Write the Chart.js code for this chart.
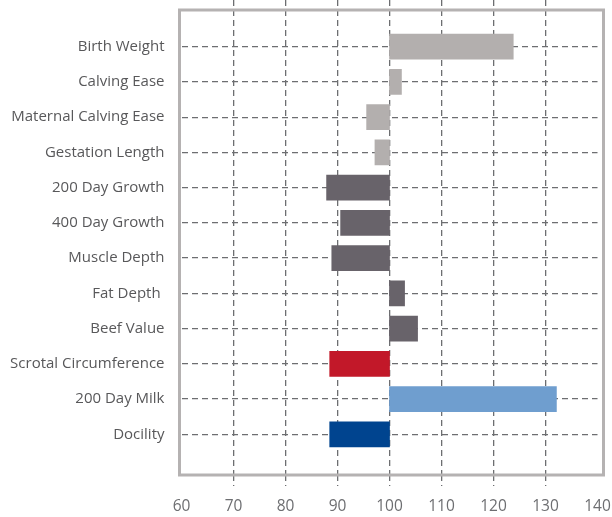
<!DOCTYPE html>
<html>
<head>
<meta charset="utf-8">
<script src="https://cdn.jsdelivr.net/npm/chart.js@4"></script>
<style>
  html, body { margin: 0; padding: 0; background: #fff; }
  #wrap { width: 612px; height: 517px; }
</style>
</head>
<body>
<div id="wrap"><canvas id="chart"></canvas></div>
<script>
// traits, top to bottom
const traits = ['Birth Weight', 'Calving Ease', 'Maternal Calving Ease', 'Gestation Length',
    '200 Day Growth', '400 Day Growth', 'Muscle Depth', 'Fat Depth ', 'Beef Value',
    'Scrotal Circumference', '200 Day Milk', 'Docility'];
// every bar starts at the breed average (100) and ends at the value
const baseline = 100;
const values = [123.8, 102.3, 95.6, 97.2, 87.9, 90.6, 88.9, 102.9, 105.4, 88.5, 132.1, 88.5];
const barColors = ['#b3afae', '#b3afae', '#b3afae', '#b3afae',
    '#68636a', '#68636a', '#68636a', '#68636a', '#68636a',
    '#c21829', '#6f9ecf', '#00448f'];
const xTicks = [60, 70, 80, 90, 100, 110, 120, 130, 140];

const gridColor = '#6d6e71';
const hidden = 'rgba(0,0,0,0)';
const edgeGrid = ctx => (ctx.tick && (ctx.tick.value === xTicks[0] || ctx.tick.value === xTicks[xTicks.length - 1])) ? hidden : gridColor;

// grey box round the plot
const framePlugin = {
    id: 'frame',
    beforeDatasetsDraw(chart) {
        const a = chart.chartArea;
        const c = chart.ctx;
        c.save();
        c.strokeStyle = '#b5b2b2';
        c.lineWidth = 3;
        c.strokeRect(a.left - 2, a.top + 10, a.right + 6 - (a.left - 2), a.bottom - a.top - 10);
        c.restore();
    }
};

new Chart(document.getElementById('chart'), {
    type: 'bar',
    data: {
        datasets: [{
            data: values.map((v, i) => ({ x: [baseline, v], y: i })),
            backgroundColor: barColors,
            borderWidth: 0,
            barThickness: 25
        }]
    },
    options: {
        indexAxis: 'y',
        responsive: true,
        maintainAspectRatio: false,
        animation: false,
        layout: { padding: { top: 0, right: 14.5, bottom: 0, left: 0 } },
        plugins: { legend: { display: false }, tooltip: { enabled: false } },
        scales: {
            x: {
                type: 'linear',
                min: xTicks[0],
                max: xTicks[xTicks.length - 1],
                afterBuildTicks: s => { s.ticks = xTicks.map(v => ({ value: v })); },
                afterFit: s => { s.height = 42; s.paddingLeft = 0; s.paddingRight = 0; },
                grid: {
                    color: edgeGrid,
                    tickColor: edgeGrid,
                    lineWidth: 1.3,
                    tickWidth: 1.3,
                    tickLength: 11,
                    tickBorderDash: [6, 4]
                },
                border: { display: false, dash: [6, 4] },
                ticks: {
                    padding: 11,
                    color: '#6d6e71',
                    font: { family: 'Open Sans', size: 15.5 }
                }
            },
            y: {
                type: 'linear',
                reverse: true,
                offset: false,
                min: -1.325,
                max: 12.155,
                afterBuildTicks: s => { s.ticks = traits.map((t, i) => ({ value: i })); },
                afterFit: s => { s.width = 181.5; s.paddingTop = 0; s.paddingBottom = 0; },
                grid: {
                    offset: false,
                    color: gridColor,
                    lineWidth: 1.3,
                    drawTicks: false
                },
                border: { display: false, dash: [6, 4] },
                ticks: {
                    padding: 17,
                    color: '#58585a',
                    font: { family: 'Open Sans', size: 15 },
                    callback: v => traits[v]
                }
            }
        }
    },
    plugins: [framePlugin]
});
</script>
</body>
</html>
